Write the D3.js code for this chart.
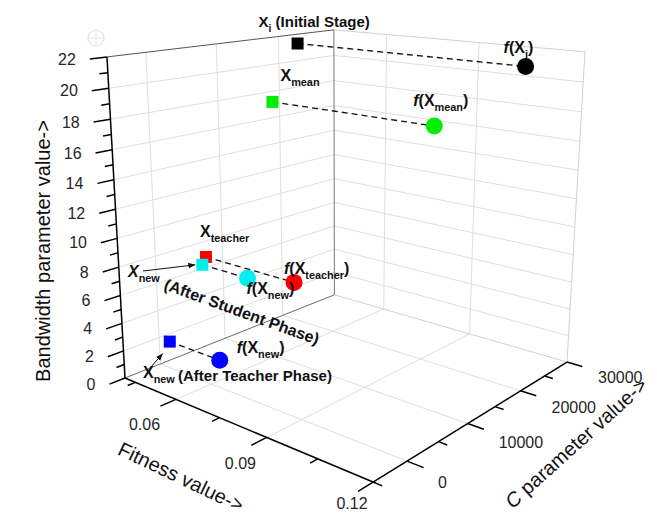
<!DOCTYPE html>
<html><head><meta charset="utf-8">
<script src="https://cdn.jsdelivr.net/npm/d3@7"></script>
<style>
body{margin:0;background:#fff}
svg{display:block}
text{font-family:"Liberation Sans",Arial,Helvetica,sans-serif}
</style>
</head><body>
<svg id="chart" width="657" height="515"></svg>
<script>
// ---------------- data ----------------
const pointNames      = ["Xi", "Xmean", "Xteacher", "XnewStudent", "XnewTeacher"];
const cValues         = [23300, 18800, 7400, 6800, 1500];
const bandwidthValues = [21.3, 17.2, 6.8, 6.3, 1.4];
const fitnessValues   = [0.113, 0.0947, 0.0724, 0.0577, 0.0596];
const pointColors     = ["#000000", "#00ee00", "#ff0000", "#00f0f0", "#0000ff"];

const fitnessDomain   = [0.041, 0.12];
const cDomain         = [-5000, 30000];
const bandwidthDomain = [0, 22];

const fitnessTicks      = [0.06, 0.09, 0.12];
const fitnessMinorTicks = [0.045, 0.075, 0.105];
const cTicks            = [0, 10000, 20000, 30000];
const cMinorTicks       = [-5000, 5000, 15000, 25000];
const bandwidthTicks    = [0, 2, 4, 6, 8, 10, 12, 14, 16, 18, 20, 22];
const bandwidthMinor    = [1, 3, 5, 7, 9, 11, 13, 15, 17, 19, 21];

// ---------------- perspective projection ----------------
const cam = {origin:[125,378], vpF:[-978,-84.6], vpC:[1288,-84], vpZ:[342,4243], kF:-0.1836, kC:0.2196, kZ:-0.0767};
function P(u,v,w){
  const a=cam.kF*u, b=cam.kC*v, c=cam.kZ*w;
  const hx=cam.origin[0]+a*cam.vpF[0]+b*cam.vpC[0]+c*cam.vpZ[0];
  const hy=cam.origin[1]+a*cam.vpF[1]+b*cam.vpC[1]+c*cam.vpZ[1];
  const hw=1+a+b+c;
  return [hx/hw, hy/hw];
}
const xs = d3.scaleLinear().domain(fitnessDomain).range([0,1]);
const cs = d3.scaleLinear().domain(cDomain).range([0,1]);
const zs = d3.scaleLinear().domain(bandwidthDomain).range([0,1]);

const svg = d3.select("#chart");
const lineGen = d3.line();
function seg(g, a, b, stroke, width, dash){
  const p = g.append("path").attr("d", lineGen([a,b])).attr("fill","none")
    .attr("stroke", stroke).attr("stroke-width", width);
  if (dash) p.attr("stroke-dasharray", dash);
  return p;
}

// faint crosshair symbol
svg.append("circle").attr("cx",96).attr("cy",38).attr("r",8).attr("fill","none").attr("stroke","#dfe2f2").attr("stroke-width",1.2);
seg(svg,[88,38],[104,38],"#dfe2f2",1);
seg(svg,[96,30],[96,46],"#dfe2f2",1);

// ---------------- grid ----------------
const grid = svg.append("g");
const gcol = "#dedede";
fitnessTicks.filter(f=>xs(f)<0.999).forEach(f=>{
  const u=xs(f);
  seg(grid,P(u,0,0),P(u,1,0),gcol,1);
  seg(grid,P(u,1,0),P(u,1,1),gcol,1);
});
cTicks.filter(c=>cs(c)<0.999).forEach(c=>{
  const v=cs(c);
  seg(grid,P(0,v,0),P(1,v,0),gcol,1);
  seg(grid,P(0,v,0),P(0,v,1),gcol,1);
});
bandwidthTicks.filter(z=>z>0 && zs(z)<0.999).forEach(z=>{
  const w=zs(z);
  seg(grid,P(0,0,w),P(0,1,w),gcol,1);
  seg(grid,P(0,1,w),P(1,1,w),gcol,1);
});
// box edges
seg(grid,P(0,1,0),P(1,1,0),"#d0d0d0",1);
seg(grid,P(0,1,1),P(1,1,1),"#d0d0d0",1);
seg(grid,P(1,1,0),P(1,1,1),"#d0d0d0",1);
seg(grid,P(0,0,0),P(0,1,0),"#6a6a6a",1);
seg(grid,P(0,1,0),P(0,1,1),"#7a7a7a",1);
seg(grid,P(0,0,1),P(0,1,1),"#555",1);

// ---------------- axes ----------------
const ax = svg.append("g");
const tickFont = 16, tickCol = "#262626";
// Z (bandwidth) axis
seg(ax,P(0,0,0),P(0,0,1),"#000",1.5);
bandwidthTicks.forEach(z=>{
  const w=zs(z), e=P(0,-0.06,w);
  seg(ax,P(0,0,w),e,"#000",1.5);
  ax.append("text").attr("x",e[0]-14).attr("y",e[1]).attr("dy","0.35em")
    .attr("text-anchor","end").attr("font-size",tickFont).attr("fill",tickCol).text(z);
});
bandwidthMinor.forEach(z=>{ const w=zs(z); seg(ax,P(0,0,w),P(0,-0.03,w),"#000",1.5); });
// Fitness axis
seg(ax,P(0,0,0),P(1,0,0),"#000",1.5);
fitnessTicks.forEach(f=>{
  const u=xs(f), e=P(u,-0.06,0);
  seg(ax,P(u,0,0),e,"#000",1.5);
  ax.append("text").attr("x",e[0]-19+13*u).attr("y",Math.min(e[1]+18,503)).attr("dy","0.35em")
    .attr("text-anchor","middle").attr("font-size",tickFont).attr("fill",tickCol).text(f.toFixed(2));
});
fitnessMinorTicks.forEach(f=>{ const u=xs(f); seg(ax,P(u,0,0),P(u,-0.03,0),"#000",1.5); });
// C axis
seg(ax,P(1,0,0),P(1,1,0),"#000",1.5);
cTicks.forEach(c=>{
  const v=cs(c), b=P(1,v,0);
  seg(ax,b,P(1.055,v,0),"#000",1.5);
  ax.append("text").attr("x",b[0]+31).attr("y",b[1]+22-7*v).attr("dy","0.35em")
    .attr("text-anchor","start").attr("font-size",tickFont).attr("fill",tickCol).text(c);
});
cMinorTicks.forEach(c=>{ const v=cs(c); seg(ax,P(1,v,0),P(1.03,v,0),"#000",1.5); });

// axis titles
svg.append("text").attr("transform","translate(50,251) rotate(-90)").attr("text-anchor","middle")
  .attr("font-size",20).attr("fill","#111").text("Bandwidth parameter value->");
svg.append("text").attr("transform","translate(181,477) rotate(25.5)").attr("text-anchor","middle").attr("dy","0.35em")
  .attr("font-size",20).attr("fill","#111").text("Fitness value->");
const ct = svg.append("text").attr("transform","translate(576,443) rotate(-42)").attr("text-anchor","middle").attr("dy","0.35em")
  .attr("font-size",20).attr("fill","#111");
ct.append("tspan").attr("font-style","italic").text("C");
ct.append("tspan").text(" parameter value->");

// ---------------- marks ----------------
const pts = pointNames.map((n,i)=>({
  name:n, color:pointColors[i],
  sq:P(xs(fitnessDomain[0]), cs(cValues[i]), zs(bandwidthValues[i])),
  ci:P(xs(fitnessValues[i]), cs(cValues[i]), zs(bandwidthValues[i]))
}));
const marks = svg.append("g");
pts.forEach(p=>seg(marks,p.sq,p.ci,"#111",1.3,"6,4"));
marks.selectAll("rect").data(pts).join("rect")
  .attr("x",d=>d.sq[0]-6).attr("y",d=>d.sq[1]-6).attr("width",12).attr("height",12)
  .attr("fill",d=>d.color);
marks.selectAll("circle").data(pts).join("circle")
  .attr("cx",d=>d.ci[0]).attr("cy",d=>d.ci[1]).attr("r",8.5).attr("fill",d=>d.color);

// ---------------- annotations ----------------
const ann = svg.append("g").attr("font-weight","bold").attr("fill","#111");
function label(x,y,parts,size,rot){
  const sz = size||15;
  const t = ann.append("text").attr("font-size",sz)
    .attr("transform",`translate(${x},${y})`+(rot?` rotate(${rot})`:""));
  let shifted=false;
  parts.forEach(p=>{
    const s=t.append("tspan").text(p.t);
    if(p.it) s.attr("font-style","italic");
    if(p.sub){ s.attr("font-size",sz*0.68).attr("dy",shifted?0:5); shifted=true; }
    else if(shifted){ s.attr("dy",-5); shifted=false; }
  });
  return t;
}
const byName = Object.fromEntries(pts.map(p=>[p.name,p]));
let s, c;
s=byName.Xi.sq; c=byName.Xi.ci;
label(s[0]-39,s[1]-17,[{t:"X"},{t:"i",sub:true},{t:" (Initial Stage)"}]);
label(c[0]-22,c[1]-13,[{t:"f",it:true},{t:"(X"},{t:"i",sub:true},{t:")"}],16);
s=byName.Xmean.sq; c=byName.Xmean.ci;
label(s[0]+8,s[1]-21,[{t:"X"},{t:"mean",sub:true}],16);
label(c[0]-21,c[1]-20,[{t:"f",it:true},{t:"(X"},{t:"mean",sub:true},{t:")"}],16);
s=byName.Xteacher.sq; c=byName.Xteacher.ci;
label(s[0]-6,s[1]-20,[{t:"X"},{t:"teacher",sub:true}],16);
label(c[0]-10,c[1]-8,[{t:"f",it:true},{t:"(X"},{t:"teacher",sub:true},{t:")"}],16);
s=byName.XnewStudent.sq; c=byName.XnewStudent.ci;
label(c[0]-1,c[1]+16,[{t:"f",it:true},{t:"(X"},{t:"new",sub:true},{t:")"}],16);
label(128,277,[{t:"X",it:true},{t:"new",sub:true}],16);
label(163,289,[{t:"(After Student Phase)"}],16,20);
s=byName.XnewTeacher.sq; c=byName.XnewTeacher.ci;
label(c[0]+17,c[1]-7,[{t:"f",it:true},{t:"(X"},{t:"new",sub:true},{t:")"}],16);
label(143,378,[{t:"X"},{t:"new",sub:true}],16);
label(178,381,[{t:"(After Teacher Phase)"}],15);

// arrows
const defs = svg.append("defs");
defs.append("marker").attr("id","ah").attr("viewBox","0 0 10 10").attr("refX",10).attr("refY",5)
  .attr("markerWidth",7).attr("markerHeight",7).attr("orient","auto")
  .append("path").attr("d","M0,1 L10,5 L0,9 Z").attr("fill","#111");
s=byName.XnewStudent.sq;
seg(svg,[143,271],[s[0]-7,s[1]],"#111",1).attr("marker-end","url(#ah)");
s=byName.XnewTeacher.sq;
seg(svg,[150,368],[s[0]-7,s[1]+12],"#111",1).attr("marker-end","url(#ah)");
</script>
</body></html>
